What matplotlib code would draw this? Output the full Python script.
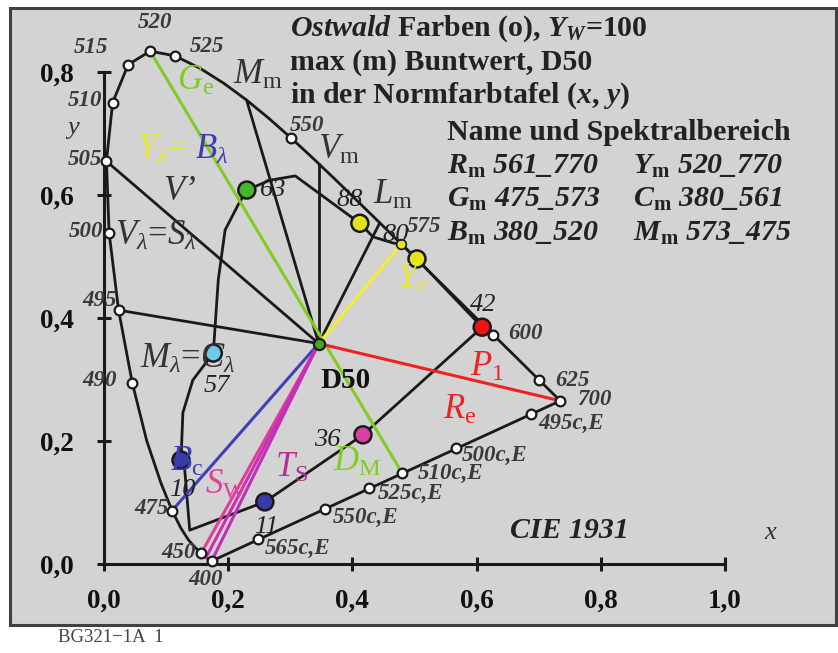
import matplotlib
matplotlib.use("Agg")
import matplotlib.pyplot as plt
from matplotlib.patches import Rectangle

plt.rcParams.update(
    {
        "font.family": "Liberation Serif",
        "mathtext.fontset": "custom",
        "mathtext.rm": "Liberation Serif",
        "mathtext.it": "Liberation Serif:italic",
        "mathtext.bf": "Liberation Serif:bold",
    }
)
try:
    plt.rcParams["mathtext.bfit"] = "Liberation Serif:italic:bold"
except KeyError:
    pass

# CIE 1931 spectral locus (nm, x, y)
locus_nm = [400, 410, 420, 430, 440, 450, 455, 460, 465, 470, 475, 480, 485, 490,
            495, 500, 505, 510, 515, 520, 525, 530, 535, 540, 545, 550, 555, 560,
            565, 570, 575, 580, 585, 590, 595, 600, 610, 620, 625, 630, 640, 650, 700]
locus_x = [0.1733, 0.1726, 0.1714, 0.1689, 0.1644, 0.1566, 0.1510, 0.1440, 0.1355,
           0.1241, 0.1096, 0.0913, 0.0687, 0.0454, 0.0235, 0.0082, 0.0039, 0.0139,
           0.0389, 0.0743, 0.1142, 0.1547, 0.1929, 0.2296, 0.2658, 0.3016, 0.3374,
           0.3731, 0.4087, 0.4441, 0.4788, 0.5125, 0.5448, 0.5752, 0.6029, 0.6270,
           0.6658, 0.6915, 0.7006, 0.7079, 0.7190, 0.7260, 0.7347]
locus_y = [0.0048, 0.0048, 0.0051, 0.0069, 0.0109, 0.0177, 0.0227, 0.0297, 0.0399,
           0.0578, 0.0868, 0.1327, 0.2007, 0.2950, 0.4127, 0.5384, 0.6548, 0.7502,
           0.8120, 0.8338, 0.8262, 0.8059, 0.7816, 0.7543, 0.7243, 0.6923, 0.6589,
           0.6245, 0.5896, 0.5547, 0.5202, 0.4866, 0.4544, 0.4242, 0.3965, 0.3725,
           0.3340, 0.3083, 0.2993, 0.2920, 0.2809, 0.2740, 0.2653]
marked_nm = [400, 450, 475, 490, 495, 500, 505, 510, 515, 520, 525, 550, 600, 625, 700]

# compensative wavelengths on the purple line
comp_labels = ["565c,E", "550c,E", "525c,E", "510c,E", "500c,E", "495c,E"]
comp_x = [0.248, 0.356, 0.427, 0.480, 0.567, 0.688]
comp_y = [0.041, 0.089, 0.124, 0.148, 0.189, 0.244]

# D50 white point
d50_x, d50_y = 0.3457, 0.3585

# Ostwald maximum-chroma outline
ostwald_x = [0.230, 0.267, 0.308, 0.412, 0.433, 0.465, 0.479, 0.504, 0.609, 0.417,
             0.259, 0.138, 0.130, 0.124, 0.127, 0.143, 0.176, 0.184, 0.195, 0.216, 0.230]
ostwald_y = [0.608, 0.624, 0.631, 0.554, 0.532, 0.522, 0.520, 0.496, 0.385, 0.210,
             0.101, 0.055, 0.153, 0.169, 0.246, 0.299, 0.343, 0.462, 0.543, 0.584, 0.608]
ostwald_num = ["63", "88", "80", "42", "36", "11", "10", "57"]
ostwald_px = [0.230, 0.412, 0.504, 0.609, 0.417, 0.259, 0.124, 0.176]
ostwald_py = [0.608, 0.554, 0.496, 0.385, 0.210, 0.101, 0.169, 0.343]
ostwald_col = ["#44b829", "#e4e21c", "#e8e41c", "#ee1414", "#d83fa8", "#3a3aa8",
               "#3a3aa8", "#6ccaea"]

# black rays from D50
ray_x = [0.0235, 0.0039, 0.2296, 0.3457, 0.4441]
ray_y = [0.4127, 0.6548, 0.7543, 0.651, 0.5547]

# coloured rays: start, end, colour
col_rays = [
    ((0.0743, 0.8338), (0.480, 0.148), "#80cc22"),
    ((d50_x, d50_y), (0.4788, 0.5202), "#f2ee2e"),
    ((d50_x, d50_y), (0.7347, 0.2653), "#ee2222"),
    ((d50_x, d50_y), (0.1096, 0.0868), "#4040b8"),
    ((d50_x, d50_y), (0.1566, 0.0177), "#e0409c"),
    ((d50_x, d50_y), (0.1644, 0.0109), "#c830b0"),
    ((d50_x, d50_y), (0.1733, 0.0048), "#c030b8"),
]

xticks = [0.0, 0.2, 0.4, 0.6, 0.8, 1.0]
xticklabels = ["0,0", "0,2", "0,4", "0,6", "0,8", "1,0"]
yticks = [0.0, 0.2, 0.4, 0.6, 0.8]
yticklabels = ["0,0", "0,2", "0,4", "0,6", "0,8"]

fig = plt.figure(figsize=(8.38, 6.53), dpi=100)
ax = fig.add_axes([0, 0, 1, 1])
ax.set_xlim(-0.1675, 1.182)
ax.set_ylim(-0.1447, 0.917)
ax.patch.set_visible(False)

ax.add_patch(Rectangle((0.0119, 0.0429), 0.9857, 0.9448, transform=ax.transAxes,
                       facecolor="#d3d3d3", edgecolor="#404040", lw=2.2, zorder=0))

for s in ["top", "right"]:
    ax.spines[s].set_visible(False)
ax.spines["left"].set_position(("data", 0))
ax.spines["bottom"].set_position(("data", 0))
ax.spines["left"].set_bounds(0, 0.8)
ax.spines["bottom"].set_bounds(0, 1.0)
for s in ["left", "bottom"]:
    ax.spines[s].set_linewidth(2.2)
    ax.spines[s].set_color("#1a1a1a")
ax.set_xticks(xticks, xticklabels)
ax.set_yticks(yticks, yticklabels)
ax.tick_params(direction="inout", length=10, width=2.2, color="#1a1a1a",
               labelsize=19.5, labelcolor="#111")
ax.tick_params(axis="x", pad=13)
ax.tick_params(axis="y", pad=17)
for lab in ax.get_xticklabels() + ax.get_yticklabels():
    lab.set_fontweight("bold")

lk = dict(color="#1a1a1a", lw=2, zorder=2, solid_capstyle="round")
# spectral locus and purple line
ax.plot(locus_x, locus_y, **lk)
ax.plot([locus_x[0], locus_x[-1]], [locus_y[0], locus_y[-1]], **lk)
# black rays
for ex, ey in zip(ray_x, ray_y):
    ax.plot([d50_x, ex], [d50_y, ey], **lk)
# Ostwald outline
ax.plot(ostwald_x, ostwald_y, color="#1a1a1a", lw=2, zorder=2, solid_joinstyle="round")

for (sx, sy), (ex, ey), c in col_rays:
    ax.plot([sx, ex], [sy, ey], color=c, lw=2.2, zorder=3)

mx = [x for n, x in zip(locus_nm, locus_x) if n in marked_nm]
my = [y for n, y in zip(locus_nm, locus_y) if n in marked_nm]
mk = dict(ls="none", marker="o", ms=7, mfc="white", mec="#1a1a1a", mew=1.6, zorder=4)
ax.plot(mx, my, **mk)
ax.plot(comp_x, comp_y, **mk)
ax.plot([0.4788], [0.5202], ls="none", marker="o", ms=7, mfc="#e8e41c",
        mec="#1a1a1a", mew=1.2, zorder=4)

ax.scatter(ostwald_px, ostwald_py, s=150, c=ostwald_col, edgecolors="#1a1a1a",
           linewidths=1.8, zorder=5)
ax.plot([d50_x], [d50_y], ls="none", marker="o", ms=8, mfc="#44aa22",
        mec="#1a1a1a", mew=1.6, zorder=5)

# wavelength labels
wl = dict(fontsize=16.5, style="italic", fontweight="bold", color="#3a3a3a",
          va="center", zorder=6)
wl_labels = [
    ("520", 0.082, 0.881, "center"), ("515", -0.021, 0.839, "center"),
    ("525", 0.166, 0.841, "center"), ("510", -0.003, 0.754, "right"),
    ("505", -0.003, 0.657, "right"), ("500", -0.002, 0.541, "right"),
    ("495", 0.020, 0.429, "right"), ("490", 0.021, 0.298, "right"),
    ("475", 0.104, 0.091, "right"), ("450", 0.148, 0.0195, "right"),
    ("400", 0.163, -0.025, "center"), ("550", 0.327, 0.713, "center"),
    ("575", 0.488, 0.548, "left"), ("600", 0.651, 0.374, "left"),
    ("625", 0.726, 0.299, "left"), ("700", 0.762, 0.267, "left"),
]
for t, x, y, ha in wl_labels:
    ax.text(x, y, t, ha=ha, **wl)
comp_pos = [(0.259, 0.026), (0.369, 0.076), (0.441, 0.114), (0.506, 0.148),
            (0.576, 0.177), (0.699, 0.229)]
for t, (x, y) in zip(comp_labels, comp_pos):
    ax.text(x, y, t, ha="left", **wl)

# Ostwald numbers
num_pos = [(0.251, 0.608, "left"), (0.396, 0.592, "center"), (0.470, 0.535, "center"),
           (0.610, 0.421, "center"), (0.359, 0.202, "center"), (0.261, 0.060, "center"),
           (0.126, 0.120, "center"), (0.181, 0.290, "center")]
for t, (x, y, ha) in zip(ostwald_num, num_pos):
    ax.text(x, y, t, ha=ha, va="center", fontsize=19, style="italic",
            color="#222", zorder=6)

big = dict(fontsize=25, va="center", zorder=6)
dark = "#333333"
ax.text(0.208, 0.795, r"$M_\mathrm{m}$", color=dark, **big)
ax.text(0.345, 0.673, r"$V_\mathrm{m}$", color=dark, **big)
ax.text(0.433, 0.600, r"$L_\mathrm{m}$", color=dark, **big)
ax.text(0.095, 0.605, "V’", color=dark, style="italic", **big)
ax.text(0.018, 0.533, r"$V_\lambda$=$S_\lambda$", color=dark, **big)
ax.text(0.058, 0.333, r"$M_\lambda$=$C_\lambda$", color=dark, **big)
ax.text(0.118, 0.785, r"$G_\mathrm{e}$", color="#80cc22", **big)
ax.text(0.053, 0.673, r"$Y_\lambda$=", color="#ecea30", **big)
ax.text(0.147, 0.673, r"$B_\lambda$", color="#3c3cb4", **big)
ax.text(0.472, 0.462, r"$Y_\mathrm{e}$", color="#ecea30", **big)
ax.text(0.589, 0.319, r"$P_\mathrm{1}$", color="#ee2222", **big)
ax.text(0.546, 0.250, r"$R_\mathrm{e}$", color="#ee2222", **big)
ax.text(0.369, 0.166, r"$D_\mathrm{M}$", color="#80cc22", **big)
ax.text(0.275, 0.156, r"$T_\mathrm{S}$", color="#b03098", **big)
ax.text(0.163, 0.128, r"$S_\mathrm{W}$", color="#e0409c", **big)
ax.text(0.106, 0.166, r"$B_\mathrm{c}$", color="#3c3cb4", **big)
ax.text(0.348, 0.299, "D50", fontsize=21, fontweight="bold", color="#111",
        va="center", zorder=6)
ax.text(-0.060, 0.709, "y", fontsize=19, style="italic", color=dark, va="center")
ax.text(1.064, 0.050, "x", fontsize=19, style="italic", color=dark, va="center")
ax.text(0.750, 0.055, "CIE 1931", fontsize=21.5, style="italic", fontweight="bold",
        color="#222", ha="center", va="center")

# title block
tb = dict(fontsize=21.5, fontweight="bold", color="#222", va="center", ha="left")
ax.text(0.2995, 0.870, r"$\mathbfit{Ostwald}$ Farben (o), $\mathbfit{Y}_{\mathbfit{W}}$=100", **tb)
ax.text(0.2995, 0.815, "max (m) Buntwert, D50", **tb)
ax.text(0.2995, 0.761, r"in der Normfarbtafel ($\mathbfit{x}$, $\mathbfit{y}$)", **tb)
ax.text(0.552, 0.701, "Name und Spektralbereich", **tb)
rows = [
    (r"$\mathbfit{R}_\mathbf{m}$", "561_770", r"$\mathbfit{Y}_\mathbf{m}$", "520_770"),
    (r"$\mathbfit{G}_\mathbf{m}$", "475_573", r"$\mathbfit{C}_\mathbf{m}$", "380_561"),
    (r"$\mathbfit{B}_\mathbf{m}$", "380_520", r"$\mathbfit{M}_\mathbf{m}$", "573_475"),
]
row_y = [0.647, 0.592, 0.537]
for (n1, r1, n2, r2), y in zip(rows, row_y):
    ax.text(0.552, y, n1 + " " + r"$\mathbfit{" + r1.replace("_", r"\_") + "}$", **tb)
    ax.text(0.852, y, n2 + " " + r"$\mathbfit{" + r2.replace("_", r"\_") + "}$", **tb)

fig.text(58 / 838, 1 - 638 / 653, "BG321−1A  1", fontsize=13.5, color="#444",
         ha="left", va="center")

fig.savefig("out.png", dpi=100)
